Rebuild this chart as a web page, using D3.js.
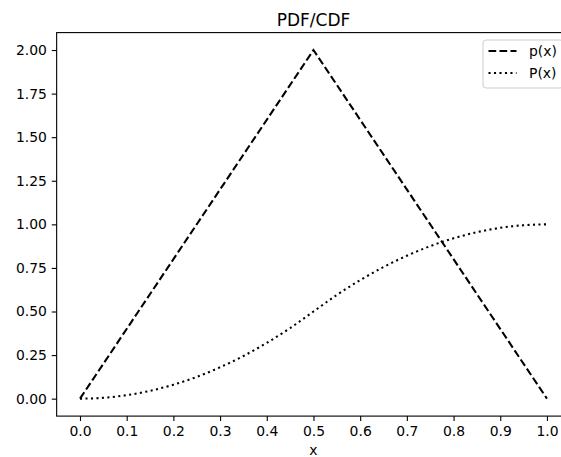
<!DOCTYPE html>
<html>
<head>
<meta charset="utf-8">
<script src="https://cdn.jsdelivr.net/npm/d3@7"></script>
<style>
  body { margin: 0; background: #fff; }
  svg { display: block; font-family: "DejaVu Sans", sans-serif; }
</style>
</head>
<body>
<svg id="chart" width="561" height="457"></svg>
<script>
// pdf of the triangular distribution, corner points
const pdfX = [0, 0.5, 1];
const pdfY = [0, 2, 0];

// cdf
const cdfX = [0, 0.05, 0.1, 0.15, 0.2, 0.25, 0.3, 0.35, 0.4, 0.45, 0.5,
              0.55, 0.6, 0.65, 0.7, 0.75, 0.8, 0.85, 0.9, 0.95, 1.0];
const cdfY = [0, 0.005, 0.02, 0.045, 0.08, 0.125, 0.18, 0.245, 0.32, 0.405, 0.5,
              0.595, 0.68, 0.755, 0.82, 0.875, 0.92, 0.955, 0.98, 0.995, 1.0];

const xTicks = [0, 0.1, 0.2, 0.3, 0.4, 0.5, 0.6, 0.7, 0.8, 0.9, 1.0];
const yTicks = [0, 0.25, 0.5, 0.75, 1.0, 1.25, 1.5, 1.75, 2.0];

const box = { left: 56.65, right: 570.3, top: 32.6, bottom: 416.1 };

const svg = d3.select("#chart");

const x = d3.scaleLinear().domain([-0.05, 1.05]).range([box.left, box.right]);
const y = d3.scaleLinear().domain([-0.1, 2.1]).range([box.bottom, box.top]);

// axes
const xAxis = svg.append("g")
  .attr("transform", "translate(0," + box.bottom + ")")
  .call(d3.axisBottom(x).tickValues(xTicks).tickFormat(d3.format(".1f"))
    .tickSizeInner(4.9).tickSizeOuter(0).tickPadding(4.9));

const yAxis = svg.append("g")
  .attr("transform", "translate(" + box.left + ",0)")
  .call(d3.axisLeft(y).tickValues(yTicks).tickFormat(d3.format(".2f"))
    .tickSizeInner(4.9).tickSizeOuter(0).tickPadding(4.9));

[xAxis, yAxis].forEach(g => {
  g.select(".domain").remove();
  g.selectAll("text").style("font-size", "13.9px").attr("fill", "#000")
    .style("font-family", "DejaVu Sans, sans-serif");
  g.selectAll("line").attr("stroke", "#000").attr("stroke-width", 1.1);
});

// frame
svg.append("rect")
  .attr("x", box.left).attr("y", box.top)
  .attr("width", box.right - box.left).attr("height", box.bottom - box.top)
  .attr("fill", "none").attr("stroke", "#000").attr("stroke-width", 1.1);

const line = d3.line().x(d => x(d[0])).y(d => y(d[1]));

svg.append("path")
  .datum(pdfX.map((v, i) => [v, pdfY[i]]))
  .attr("d", line)
  .attr("fill", "none").attr("stroke", "#000")
  .attr("stroke-width", 2.08).attr("stroke-dasharray", "7.7,3.3");

svg.append("path")
  .datum(cdfX.map((v, i) => [v, cdfY[i]]))
  .attr("d", line.curve(d3.curveMonotoneX))
  .attr("fill", "none").attr("stroke", "#000")
  .attr("stroke-width", 2.08).attr("stroke-dasharray", "2.08,3.4")
  .attr("stroke-linecap", "butt");

// title and label
svg.append("text")
  .attr("x", (box.left + box.right) / 2).attr("y", 25.5)
  .attr("text-anchor", "middle").style("font-size", "17px")
  .text("PDF/CDF");

svg.append("text")
  .attr("x", (box.left + box.right) / 2).attr("y", 455)
  .attr("text-anchor", "middle").style("font-size", "13.9px")
  .text("x");

// legend
const lg = svg.append("g");
lg.append("rect")
  .attr("x", 483).attr("y", 40).attr("width", 80).attr("height", 48)
  .attr("rx", 3).attr("fill", "#fff").attr("fill-opacity", 0.8)
  .attr("stroke", "#ccc").attr("stroke-width", 1);

const legendItems = [
  { label: "p(x)", dash: "7.7,3.3", ly: 51 },
  { label: "P(x)", dash: "2.08,3.4", ly: 73 }
];
legendItems.forEach(it => {
  lg.append("line")
    .attr("x1", 488.5).attr("x2", 516.5).attr("y1", it.ly).attr("y2", it.ly)
    .attr("stroke", "#000").attr("stroke-width", 2.08)
    .attr("stroke-dasharray", it.dash);
  lg.append("text")
    .attr("x", 529).attr("y", it.ly + 5)
    .style("font-size", "13.9px")
    .text(it.label);
});
</script>
</body>
</html>
